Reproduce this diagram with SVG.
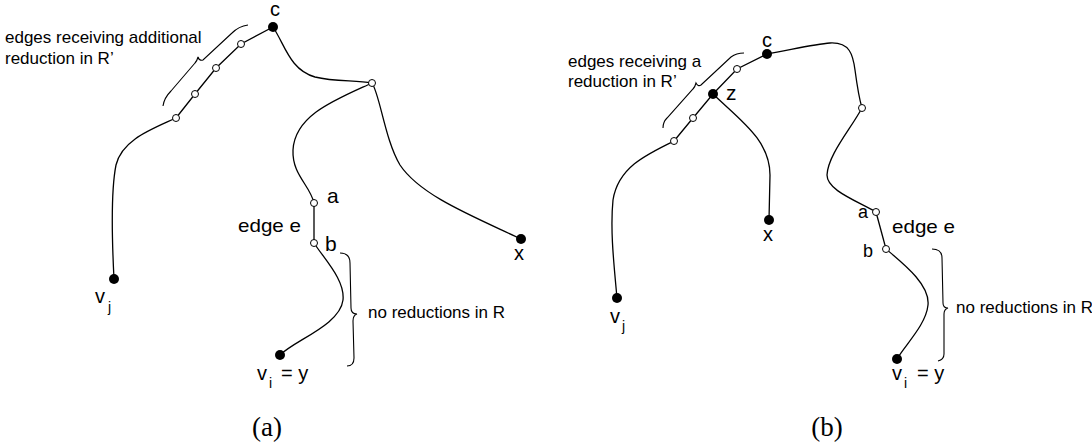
<svg xmlns="http://www.w3.org/2000/svg" width="1092" height="442" viewBox="0 0 1092 442">
  <style>
    .edge { fill: none; stroke: #000; stroke-width: 1.3; }
    .brace { fill: none; stroke: #000; stroke-width: 1.1; }
    .open { fill: #fff; stroke: #000; stroke-width: 1; }
    .solid { fill: #000; }
    .lbl { font-family: "Liberation Sans", Arial, sans-serif; fill: #000; }
    .note { font-family: "Liberation Sans", Arial, sans-serif; font-size: 17px; fill: #000; }
    .cap { font-family: "Liberation Serif", "Times New Roman", serif; font-size: 27px; fill: #000; text-anchor: middle; }
  </style>
  <rect width="1092" height="442" fill="#fff"/>

  <!-- ===== panel (a) ===== -->
  <g id="connectors-a">
    <path class="edge" d="M273,27 L241,44 L216,68 L195,94 L176,118"/>
    <path class="edge" d="M176,118 C150,130 122,140 116,165 C111,190 112,240 114,279"/>
    <path class="edge" d="M273,27 C285,45 290,70 315,77 C335,82 355,80 372,83"/>
    <path class="edge" d="M372,83 C335,100 295,115 293,150 C292,175 310,185 314,203"/>
    <path class="edge" d="M372,83 C380,95 385,140 400,165 C420,195 470,215 521,239"/>
    <path class="edge" d="M314,203 L314,243"/>
    <path class="edge" d="M314,243 C325,260 345,280 343,300 C340,325 295,340 280,355"/>
  </g>
  <g id="braces-a">
    <path class="brace" d="M163,106 C164,99 167,95 171,91 L195,63 Q197,61 198,57 Q199,61 203,60 L232,33 C236,29 241,26 248,25"/>
    <path class="brace" d="M340,253 C347,253 350,257 350,263 L351,308 C351,312 353,314 357,314 C354,315 353,317 353,321 L354,358 C354,363 352,366 347,366"/>
  </g>
  <g id="node-a-c"><circle class="solid" cx="273" cy="27" r="5"/><text class="lbl" x="270" y="16" font-size="20">c</text></g>
  <g id="node-a-p1"><circle class="open" cx="241" cy="44" r="3.5"/></g>
  <g id="node-a-p2"><circle class="open" cx="216" cy="68" r="3.5"/></g>
  <g id="node-a-p3"><circle class="open" cx="195" cy="94" r="3.5"/></g>
  <g id="node-a-p4"><circle class="open" cx="176" cy="118" r="3.5"/></g>
  <g id="node-a-fork"><circle class="open" cx="372" cy="83" r="3.5"/></g>
  <g id="node-a-a"><circle class="open" cx="314" cy="203" r="3.5"/><text class="lbl" x="327" y="203" font-size="21">a</text></g>
  <g id="node-a-b"><circle class="open" cx="314" cy="243" r="3.5"/><text class="lbl" x="325" y="251" font-size="21">b</text></g>
  <g id="node-a-x"><circle class="solid" cx="521" cy="239" r="5"/><text class="lbl" x="514" y="260" font-size="20">x</text></g>
  <g id="node-a-vj"><circle class="solid" cx="114" cy="279" r="5"/>
    <text class="lbl" x="95" y="303" font-size="20">v</text><text class="lbl" x="108" y="312" font-size="14">j</text></g>
  <g id="node-a-vi"><circle class="solid" cx="280" cy="355" r="5"/>
    <text class="lbl" x="257" y="380" font-size="20">v</text><text class="lbl" x="269" y="388" font-size="14">i</text><text class="lbl" x="281" y="380" font-size="20">= y</text></g>
  <g id="labels-a">
    <text class="lbl" x="238" y="232" font-size="19" textLength="63" lengthAdjust="spacingAndGlyphs">edge e</text>
    <text class="note" x="5" y="43" font-size="17.5">edges receiving additional</text>
    <text class="note" x="5" y="64" font-size="17.5">reduction in R’</text>
    <text class="note" x="368" y="318">no reductions in R</text>
    <text class="cap" x="267" y="436">(a)</text>
  </g>

  <!-- ===== panel (b) ===== -->
  <g id="connectors-b">
    <path class="edge" d="M767,54 L737,69 L713,94 L693,118 L674,141"/>
    <path class="edge" d="M674,141 C645,155 618,168 613,200 C610,230 614,265 617,298"/>
    <path class="edge" d="M713,94 C740,120 770,140 770,175 L769,220"/>
    <path class="edge" d="M767,54 C790,50 815,44 830,43 C850,42 853,55 855,70 C857,85 859,98 862,108"/>
    <path class="edge" d="M862,108 C850,130 828,155 827,175 C827,190 855,200 876,212"/>
    <path class="edge" d="M876,212 L886,249"/>
    <path class="edge" d="M886,249 C905,265 930,285 928,305 C926,325 905,345 897,359"/>
  </g>
  <g id="braces-b">
    <path class="brace" d="M663,128 C663,124 664,121 667,118 L693,89 Q695,87 696,83 Q698,87 701,85 L731,57 C735,54 739,53 744,53"/>
    <path class="brace" d="M932,249 C938,249 942,252 942,258 L943,303 C943,306 945,308 948,308 C945,309 944,311 944,314 L944,354 C944,358 942,360 938,361"/>
  </g>
  <g id="node-b-c"><circle class="solid" cx="767" cy="54" r="5"/><text class="lbl" x="762" y="47" font-size="20">c</text></g>
  <g id="node-b-p1"><circle class="open" cx="737" cy="69" r="3.5"/></g>
  <g id="node-b-z"><circle class="solid" cx="713" cy="94" r="5"/><text class="lbl" x="726" y="100" font-size="21">z</text></g>
  <g id="node-b-p2"><circle class="open" cx="693" cy="118" r="3.5"/></g>
  <g id="node-b-p3"><circle class="open" cx="674" cy="141" r="3.5"/></g>
  <g id="node-b-fork"><circle class="open" cx="862" cy="108" r="3.5"/></g>
  <g id="node-b-x"><circle class="solid" cx="769" cy="220" r="5"/><text class="lbl" x="763" y="241" font-size="20">x</text></g>
  <g id="node-b-a"><circle class="open" cx="876" cy="212" r="3.5"/><text class="lbl" x="858" y="218" font-size="18">a</text></g>
  <g id="node-b-b"><circle class="open" cx="886" cy="249" r="3.5"/><text class="lbl" x="863" y="257" font-size="18">b</text></g>
  <g id="node-b-vj"><circle class="solid" cx="617" cy="298" r="5"/>
    <text class="lbl" x="610" y="323" font-size="20">v</text><text class="lbl" x="622" y="331" font-size="14">j</text></g>
  <g id="node-b-vi"><circle class="solid" cx="897" cy="359" r="5"/>
    <text class="lbl" x="892" y="380" font-size="20">v</text><text class="lbl" x="904" y="388" font-size="14">i</text><text class="lbl" x="917" y="380" font-size="20">= y</text></g>
  <g id="labels-b">
    <text class="lbl" x="892" y="233" font-size="19" textLength="63" lengthAdjust="spacingAndGlyphs">edge e</text>
    <text class="note" x="568" y="67">edges receiving a</text>
    <text class="note" x="568" y="87">reduction in R’</text>
    <text class="note" x="956" y="313">no reductions in R</text>
    <text class="cap" x="827" y="436">(b)</text>
  </g>
</svg>
